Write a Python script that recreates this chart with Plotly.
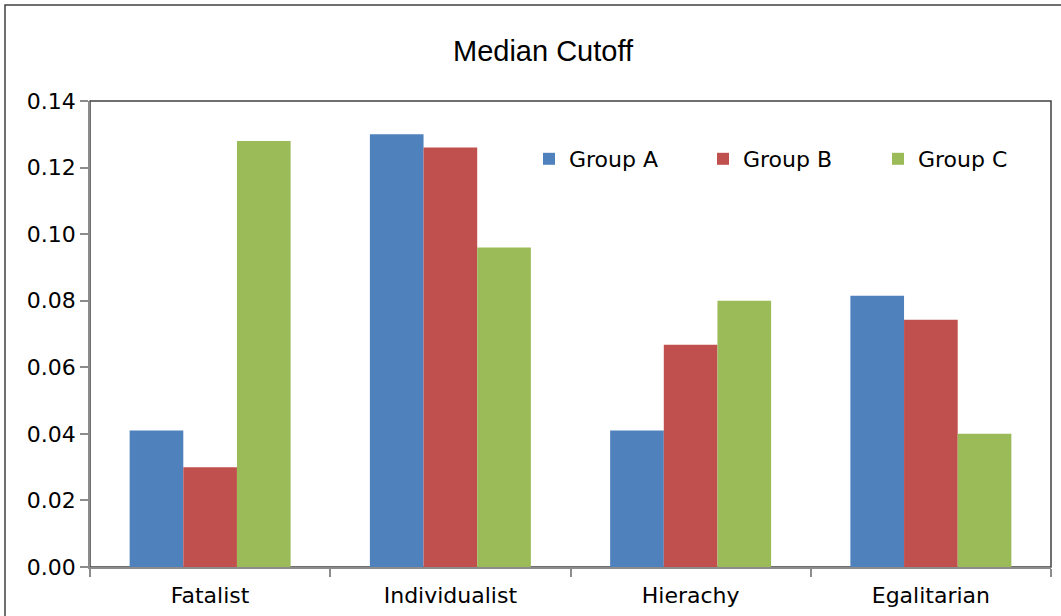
import plotly.graph_objects as go

categories = ["Fatalist", "Individualist", "Hierachy", "Egalitarian"]
group_a = [0.041, 0.130, 0.041, 0.0815]
group_b = [0.030, 0.126, 0.0668, 0.0743]
group_c = [0.128, 0.096, 0.080, 0.040]
series_names = ["Group A", "Group B", "Group C"]
colors = ["#4F81BD", "#C0504D", "#9BBB59"]
y_ticks = [0, 0.02, 0.04, 0.06, 0.08, 0.10, 0.12, 0.14]

W, H = 1061, 616
L, R, T, B = 90, 10, 101, 49
pw, ph = W - L - R, H - T - B

legend_ids = ["legend", "legend2", "legend3"]
legend_text_x = [569, 743, 918]   # pixel where legend text starts

fig = go.Figure()
for name, vals, col, lid in zip(series_names, [group_a, group_b, group_c], colors, legend_ids):
    fig.add_trace(go.Bar(x=categories, y=vals, name=name, legend=lid,
                         marker=dict(color=col, line=dict(width=0))))

tickfont = dict(family="DejaVu Sans", size=22, color="#000")
legfont = dict(family="DejaVu Sans", size=22, color="#000")

layout_legends = {}
for lid, tx in zip(legend_ids, legend_text_x):
    layout_legends[lid] = dict(
        x=(tx - 40 - L) / pw, y=1 - (159 - T) / ph, xanchor="left", yanchor="middle",
        font=legfont, bgcolor="rgba(0,0,0,0)", borderwidth=0,
    )

fig.update_layout(
    width=W, height=H,
    margin=dict(l=L, r=R, t=T, b=B, autoexpand=False),
    paper_bgcolor="white", plot_bgcolor="white",
    barmode="group", bargap=0.33, bargroupgap=0,
    title=dict(text="Median Cutoff", x=543 / W, xref="container", xanchor="center",
               y=(H - 51) / H, yanchor="middle",
               font=dict(family="Liberation Sans", size=29, color="#000")),
    xaxis=dict(showgrid=False, showline=True, linecolor="#8c8c8c", linewidth=1.5,
               ticks="outside", tickson="boundaries", ticklen=8, tickcolor="#8c8c8c",
               tickwidth=1.5, tickfont=tickfont, ticklabelstandoff=8, automargin=False),
    yaxis=dict(range=[0, 0.14], tickvals=y_ticks, tickformat=".2f", showgrid=False,
               showline=True, linecolor="#8c8c8c", linewidth=1.5, zeroline=False,
               ticks="outside", ticklen=8, tickcolor="#8c8c8c", tickwidth=1.5,
               tickfont=tickfont, automargin=False),
    showlegend=True,
    **layout_legends,
)
# plot area frame (top/right darker)
fig.add_shape(type="rect", xref="paper", yref="paper", x0=0, x1=1, y0=0, y1=1,
              line=dict(color="#404040", width=1.5), layer="below")
# outer chart border
fig.add_shape(type="rect", xref="paper", yref="paper",
              x0=(5 - L) / pw, x1=(W + 10 - L) / pw,
              y0=1 - (H + 10 - T) / ph, y1=1 - (5 - T) / ph,
              line=dict(color="#404040", width=1.5), layer="below")

fig.write_html("out.html")
